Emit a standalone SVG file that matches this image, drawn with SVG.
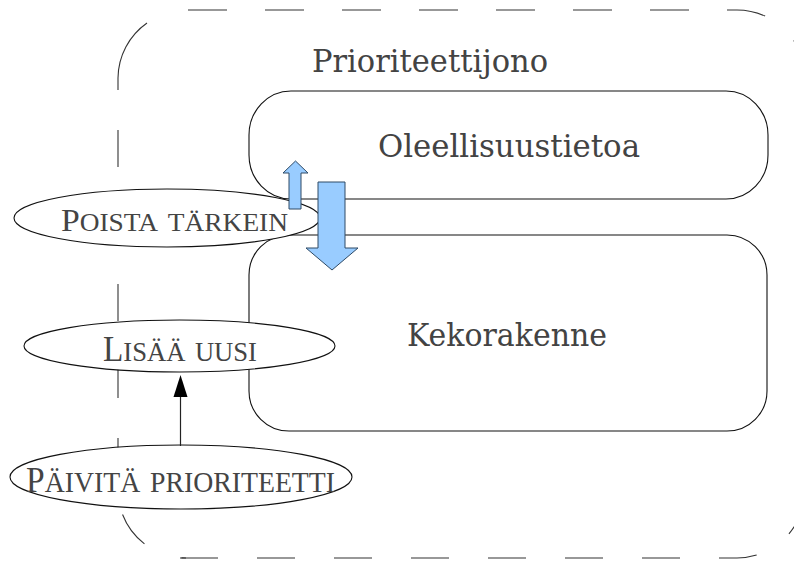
<svg xmlns="http://www.w3.org/2000/svg" width="794" height="561" viewBox="0 0 794 561">
<style>
.bg{fill:#ffffff}
.dash{fill:none;stroke:#333333;stroke-width:1.1}
.box{fill:#ffffff;stroke:#111111;stroke-width:1.1}
.ell{fill:#ffffff;stroke:#111111;stroke-width:1.1}
.big{font-family:"DejaVu Serif","Liberation Serif",serif;font-size:32px;fill:#434343;text-anchor:middle}
.sc{font-family:"Liberation Serif","DejaVu Serif",serif;fill:#444444;text-anchor:middle}
.sm{font-variant:small-caps}
.blue{fill:#99ccff;stroke:#2e4a66;stroke-width:1}
.conn{stroke:#222222;stroke-width:1.2;fill:none}
.head{fill:#000000}
</style>
<rect class="bg" x="0" y="0" width="794" height="561"/>
<g id="prioriteettijono">
<path class="dash" d="M188,10 H737 A68,68 0 0 1 805,78" stroke-dasharray="39 38"/>
<path class="dash" d="M180,558 H737 A68,68 0 0 0 805,490" stroke-dasharray="38 39"/>
<path class="dash" d="M147,23 A68,68 0 0 0 118,78 V90"/>
<path class="dash" d="M118,130 V490 A68,68 0 0 0 186,558" stroke-dasharray="37 40"/>
<text class="big" x="430" y="72" textLength="236" lengthAdjust="spacingAndGlyphs">Prioriteettijono</text>
</g>
<g id="oleellisuustietoa">
<rect class="box" x="249" y="91" width="519" height="108" rx="42" ry="44"/>
<text class="big" x="509" y="157" textLength="262" lengthAdjust="spacingAndGlyphs">Oleellisuustietoa</text>
</g>
<g id="kekorakenne">
<rect class="box" x="249" y="235" width="518" height="196" rx="40" ry="40"/>
<text class="big" x="507" y="346" textLength="200" lengthAdjust="spacingAndGlyphs">Kekorakenne</text>
</g>
<g id="poista">
<ellipse class="ell" cx="167" cy="218" rx="153" ry="29"/>
<text class="sc" x="174.5" y="231" textLength="227" lengthAdjust="spacingAndGlyphs"><tspan font-size="32">P</tspan><tspan class="sm" font-size="37">oista tärkein</tspan></text>
</g>
<g id="lisaa">
<ellipse class="ell" cx="179.5" cy="346" rx="155.5" ry="26"/>
<text class="sc" x="180" y="361" textLength="154" lengthAdjust="spacingAndGlyphs"><tspan font-size="35">L</tspan><tspan class="sm" font-size="40">isää uusi</tspan></text>
</g>
<g id="paivita">
<ellipse class="ell" cx="181" cy="477" rx="171" ry="32"/>
<text class="sc" x="180.5" y="492" textLength="309" lengthAdjust="spacingAndGlyphs"><tspan font-size="35">P</tspan><tspan class="sm" font-size="41">äivitä prioriteetti</tspan></text>
</g>
<g id="connectors">
<polygon class="blue" points="289,209 289,173 283,173 295.5,161 308,173 301,173 301,209"/>
<polygon class="blue" points="318,182 345,182 345,248 358,248 332,270 306,248 318,248"/>
<line class="conn" x1="180.5" y1="446" x2="180.5" y2="396"/>
<polygon class="head" points="180.5,375 187.5,397 173.5,397"/>
</g>
</svg>
